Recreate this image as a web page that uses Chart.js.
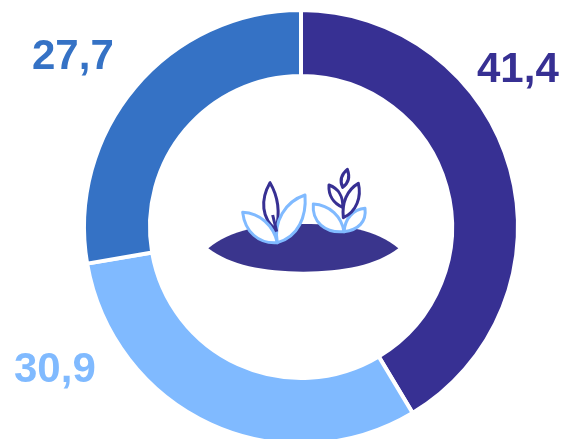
<!DOCTYPE html>
<html>
<head>
<meta charset="utf-8">
<style>
  html, body { margin: 0; padding: 0; background: #fff; overflow: hidden; }
  #wrap { position: relative; width: 564px; height: 439px; overflow: hidden; }
  #wrap div { position: absolute; left: 0; top: 0; width: 564px; height: 460px; }
</style>
<script src="https://cdn.jsdelivr.net/npm/chart.js@4"></script>
</head>
<body>
<div id="wrap"><div><canvas id="donut"></canvas></div></div>
<script>
const categories = ['A', 'B', 'C']
const values = [41.4, 30.9, 27.7]
const colors = ['#373093', '#80BAFF', '#3572C5']

// where each value label sits, same order as values
const labelPos = [[477, 82], [14, 382], [32, 69]]

// plant icon in the middle, coords are local to the icon box (1 unit = 1/3 px)
function drawLeaf (ctx, d, stroke) {
  ctx.strokeStyle = stroke
  ctx.fillStyle = '#fff'
  const p = new Path2D(d)
  ctx.fill(p)
  ctx.stroke(p)
}

const plantIcon = {
  id: 'plantIcon',
  afterDraw (chart) {
    const ctx = chart.ctx
    const arc = chart.getDatasetMeta(0).data[0]
    ctx.save()
    ctx.translate(arc.x - 111, arc.y - 77)
    ctx.scale(1 / 3, 1 / 3)
    ctx.lineWidth = 9
    ctx.lineJoin = 'round'
    ctx.fillStyle = '#3A358D'
    ctx.fill(new Path2D('M55 295 C120 240 220 222 340 222 C460 222 560 240 625 295 C560 345 460 365 340 365 C220 365 120 345 55 295 Z'))
    // left plant
    drawLeaf(ctx, 'M240 98 C210 150 215 205 258 240 C270 190 265 140 240 98 Z', '#373093')
    drawLeaf(ctx, 'M158 187 C210 190 250 225 262 278 C205 282 165 245 158 187 Z', '#80BAFF')
    drawLeaf(ctx, 'M345 135 C285 155 250 215 262 278 C325 260 350 200 345 135 Z', '#80BAFF')
    ctx.strokeStyle = '#373093'
    ctx.beginPath()
    ctx.moveTo(248, 195)
    ctx.lineTo(260, 245)
    ctx.stroke()
    // right plant
    drawLeaf(ctx, 'M370 162 C420 165 455 200 462 245 C405 250 365 215 370 162 Z', '#80BAFF')
    drawLeaf(ctx, 'M525 175 C490 178 465 205 462 245 C505 240 530 215 525 175 Z', '#80BAFF')
    drawLeaf(ctx, 'M505 100 C470 120 455 160 460 203 C500 185 515 140 505 100 Z', '#373093')
    drawLeaf(ctx, 'M417 105 C415 135 430 160 458 172 C460 140 445 115 417 105 Z', '#373093')
    drawLeaf(ctx, 'M472 58 C452 75 450 95 458 112 C475 100 480 80 472 58 Z', '#373093')
    ctx.restore()
  }
}

const valueLabels = {
  id: 'valueLabels',
  afterDraw (chart) {
    const ctx = chart.ctx
    ctx.save()
    ctx.font = 'bold 42px "Liberation Sans", Arial, sans-serif'
    ctx.textAlign = 'left'
    ctx.textBaseline = 'alphabetic'
    values.forEach((v, i) => {
      ctx.fillStyle = colors[i]
      ctx.fillText(String(v).replace('.', ','), labelPos[i][0], labelPos[i][1])
    })
    ctx.restore()
  }
}

new Chart(document.getElementById('donut').getContext('2d'), {
  type: 'doughnut',
  data: {
    labels: categories,
    datasets: [{
      data: values,
      backgroundColor: colors,
      borderColor: '#fff',
      borderWidth: 4
    }]
  },
  options: {
    responsive: true,
    maintainAspectRatio: false,
    animation: false,
    cutout: '69.6%',
    layout: { padding: { left: 82, right: 44, top: 8, bottom: 14 } },
    plugins: {
      legend: { display: false },
      tooltip: { enabled: false }
    }
  },
  plugins: [plantIcon, valueLabels]
})
</script>
</body>
</html>
